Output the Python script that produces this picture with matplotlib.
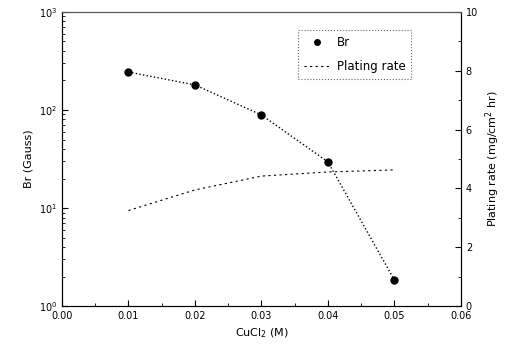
import matplotlib
matplotlib.use("Agg")
import matplotlib.pyplot as plt
from matplotlib.lines import Line2D
from matplotlib.ticker import LogLocator, MultipleLocator

# data
cucl2 = [0.01, 0.02, 0.03, 0.04, 0.05]
br = [244, 180, 89, 29.5, 1.84]
plating = [3.25, 3.95, 4.42, 4.56, 4.63]

plt.rcParams['font.family'] = 'DejaVu Sans'
plt.rcParams['font.size'] = 7

fig = plt.figure(figsize=(5.06, 3.61), dpi=100)
ax = fig.add_axes([0.1225, 0.152, 0.7885, 0.815])
ax2 = ax.twinx()

ax.plot(cucl2, br, color='black', ls=':', lw=1, marker='o', ms=5)
ax2.plot(cucl2, plating, color='black', ls=(0, (2, 3)), lw=0.8)

ax.set_yscale('log')
ax.set_ylim(1, 1000)
ax.set_xlim(0, 0.06)
ax2.set_ylim(0, 10)

ax.xaxis.set_major_locator(MultipleLocator(0.01))
ax.xaxis.set_minor_locator(MultipleLocator(0.005))
ax.yaxis.set_major_locator(LogLocator(base=10))
ax.yaxis.set_minor_locator(LogLocator(base=10, subs=range(2, 10)))
ax2.yaxis.set_major_locator(MultipleLocator(2))
ax2.yaxis.set_minor_locator(MultipleLocator(1))
ax.xaxis.set_major_formatter(plt.FuncFormatter(lambda v, p: f"{v:.2f}"))

ax.tick_params(which='both', direction='in', top=False)
ax2.tick_params(which='both', direction='in')
ax.tick_params(which='major', length=4)
ax.tick_params(which='minor', length=2)
ax2.tick_params(which='major', length=4)
ax2.tick_params(which='minor', length=2)

ax.spines['top'].set_color('#555555')
ax2.spines['top'].set_color('#555555')
ax.spines['bottom'].set_linestyle(':')
ax2.spines['right'].set_linestyle(':')

ax.set_xlabel('CuCl$_2$ (M)', fontsize=8)
ax.set_ylabel('Br (Gauss)', fontsize=8)
ax2.set_ylabel('Plating rate (mg/cm$^2$ hr)', fontsize=8)

handles = [Line2D([], [], color='black', ls='none', marker='o', ms=4),
           Line2D([], [], color='black', ls=(0, (2, 3)), lw=0.8)]
leg = ax.legend(handles, ['Br', 'Plating rate'], loc='upper left',
                bbox_to_anchor=(0.585, 0.945), fontsize=8.5, fancybox=False,
                edgecolor='#666666', framealpha=1, labelspacing=0.9,
                handlelength=2.2, handletextpad=0.6, borderpad=0.5,
                borderaxespad=0.2)
leg.get_frame().set_linestyle(':')
leg.get_frame().set_linewidth(0.8)

fig.savefig('out.png', dpi=100)
